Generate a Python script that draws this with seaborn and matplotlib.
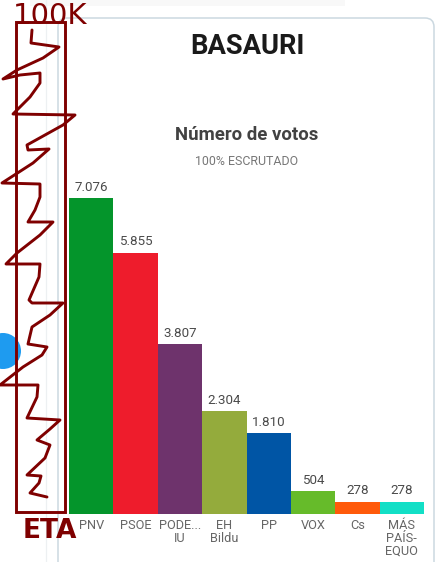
import matplotlib
matplotlib.use("Agg")
import matplotlib.pyplot as plt
import seaborn as sns
import pandas as pd
from matplotlib.patches import FancyBboxPatch, Circle, Rectangle

parties = ["PNV", "PSOE", "PODE...\nIU", "EH\nBildu", "PP", "VOX", "Cs", "MÁS\nPAÍS-\nEQUO"]
votes = [7076, 5855, 3807, 2304, 1810, 504, 278, 278]
vote_labels = ["7.076", "5.855", "3.807", "2.304", "1.810", "504", "278", "278"]
colors = ["#04952B", "#EE1C2C", "#6E336C", "#94AB3C", "#0055A5", "#66BB2A", "#FF5A0A", "#12DFC6"]

W, H = 445, 562
DARK = "#7F0000"

sns.set_theme(style="white")
plt.rcParams["font.family"] = ["Roboto", "DejaVu Sans"]

fig = plt.figure(figsize=(W / 100, H / 100), dpi=100, facecolor="white")

# background layer in pixel coordinates
bg = fig.add_axes([0, 0, 1, 1], zorder=0)
bg.set_xlim(0, W); bg.set_ylim(H, 0); bg.axis("off")
bg.add_patch(Rectangle((30, 0), 315, 6, fc="#F8F8F8", ec="none"))
bg.plot([46, 46], [0, H], color="#EDF0F2", lw=0.9)
bg.add_patch(FancyBboxPatch((58, 18), 376, 580, boxstyle="round,pad=0,rounding_size=9",
                            fc="white", ec="#CBD8E0", lw=1.1))
bg.add_patch(Circle((3, 351), 18, fc="#1E9BF0", ec="none"))
bg.text(247, 46, "BASAURI", ha="center", va="center", fontsize=19.7, fontweight="bold", color="#1A1A1A")
bg.text(246.5, 134.5, "Número de votos", ha="center", va="center", fontsize=13.4, fontweight="bold", color="#424242")
bg.text(246.5, 161.5, "100% ESCRUTADO", ha="center", va="center", fontsize=8.9, color="#777777")

# bar chart
ax = fig.add_axes([69 / W, 1 - 514 / H, 355 / W, 316 / H], zorder=1)
ax.patch.set_alpha(0)
df = pd.DataFrame({"party": parties, "votes": votes})
sns.barplot(data=df, x="party", y="votes", hue="party", palette=colors, width=1.0,
            legend=False, saturation=1, linewidth=0, ax=ax)
ax.set_xlim(-0.5, 7.5)
ax.set_ylim(0, max(votes))
ax.set_xlabel(""); ax.set_ylabel(""); ax.set_yticks([])
sns.despine(ax=ax, left=True, bottom=True)
ax.tick_params(axis="x", length=0, pad=3.5, labelsize=9.2, labelcolor="#666666")
for lab in ax.get_xticklabels():
    lab.set_linespacing(0.98)
for cont, lab in zip(ax.containers, vote_labels):
    ann = ax.bar_label(cont, labels=[lab], padding=3, fontsize=9.6, color="#4A4A4A")
    for a in ann:
        a.set_clip_on(False)

# hand-drawn annotation
top = fig.add_axes([0, 0, 1, 1], zorder=2)
top.set_xlim(0, W); top.set_ylim(H, 0); top.axis("off"); top.patch.set_alpha(0)
top.add_patch(Rectangle((15.5, 22), 49.5, 490, fc="none", ec=DARK, lw=2.1))
scr_x = [32, 31, 59, 43, 17, 3, 20, 40, 40, 30, 13, 75, 63, 27, 28, 49, 33, 2, 40, 40, 35, 28, 53, 40, 17, 6, 40, 39, 29,
         32, 63, 50, 32, 28, 47, 42, 23, 0, 38, 37, 27, 60, 50, 37, 50, 45, 27, 41, 39, 30, 47]
scr_y = [30, 43, 47, 58, 70, 79, 75, 73, 83, 97, 114, 115, 125, 145, 150, 149, 163, 183, 184, 197, 210, 222, 222, 235, 253,
         264, 264, 277, 300, 303, 303, 315, 327, 344, 347, 355, 367, 385, 385, 397, 418, 420, 429, 440, 445, 458, 475, 476,
         483, 493, 497]
top.plot(scr_x, scr_y, color=DARK, lw=2.1, solid_joinstyle="round", solid_capstyle="round")
top.text(50, 16, "100K", ha="center", va="center", fontsize=21, color=DARK, family="DejaVu Sans")
top.text(49.5, 531, "ETA", ha="center", va="center", fontsize=19, fontweight="bold", color=DARK, family="DejaVu Sans")

fig.savefig("out.png", dpi=100)
